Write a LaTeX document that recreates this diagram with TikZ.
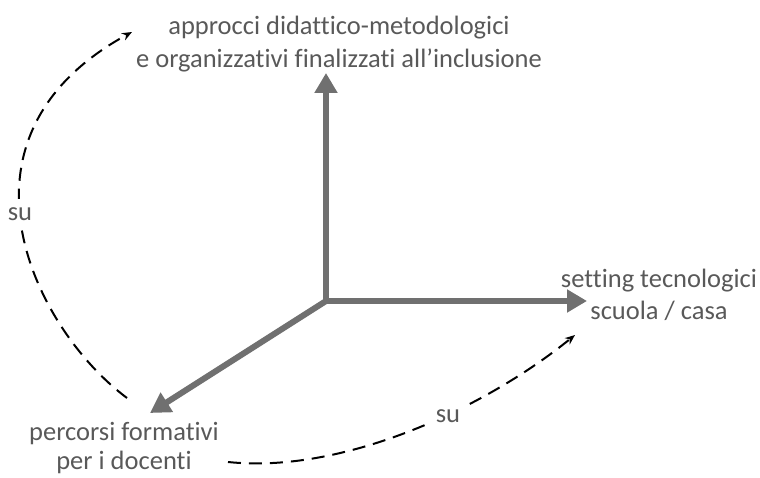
\documentclass[tikz,border=0pt]{standalone}
\usepackage{fontspec}
\setmainfont{Carlito}[Ligatures=NoCommon]
\usetikzlibrary{arrows.meta}
\definecolor{axisgray}{HTML}{707070}
\definecolor{labelgray}{HTML}{595959}
\begin{document}
\begin{tikzpicture}[x=1pt,y=1pt,
  axis/.style={draw=axisgray, line width=6pt, line cap=rect, -{Triangle[length=20pt,width=22pt]}},
  link/.style={draw=black, line width=2pt, dash pattern=on 13pt off 8pt, -{Stealth[length=10pt,width=8pt]}},
  lbl/.style={text=labelgray, font=\fontsize{26.5}{33}\selectfont, align=center, inner sep=0pt},
  tag/.style={text=labelgray, font=\fontsize{26.5}{30}\selectfont, fill=white, inner xsep=6pt, inner ysep=8pt}]
\useasboundingbox (0,0) rectangle (760,478);

% axes
\coordinate (O) at (326,177);
\coordinate (upTip) at (326,405);
\coordinate (rightTip) at (587,177);
\coordinate (diagTip) at (150,65);
\draw[axis] (O) -- (upTip);
\draw[axis] (O) -- (rightTip);
\draw[axis] (O) -- (diagTip);

% axis labels
\node[lbl] (approcci) at (339,434) {approcci didattico-metodologici\\e organizzativi finalizzati all’inclusione};
\node[lbl, font=\fontsize{26.5}{31.7}\selectfont] (setting) at (659,183) {setting tecnologici\\scuola / casa};
\node[lbl, font=\fontsize{26.5}{29}\selectfont] (percorsi) at (124,30) {percorsi formativi\\per i docenti};

% dashed relations
\coordinate (lStart) at (127,80);
\coordinate (lEnd) at (132,446);
\coordinate (bStart) at (228,16);
\coordinate (bEnd) at (575,143);
\draw[link] (lStart) .. controls (33,150) and (-60,341) .. (lEnd);
\draw[link] (bStart) .. controls (342,4) and (483,68.5) .. (bEnd);
\node[tag] (suLeft) at (20,264) {su};
\node[tag] (suBottom) at (448,61.5) {su};
\end{tikzpicture}
\end{document}
